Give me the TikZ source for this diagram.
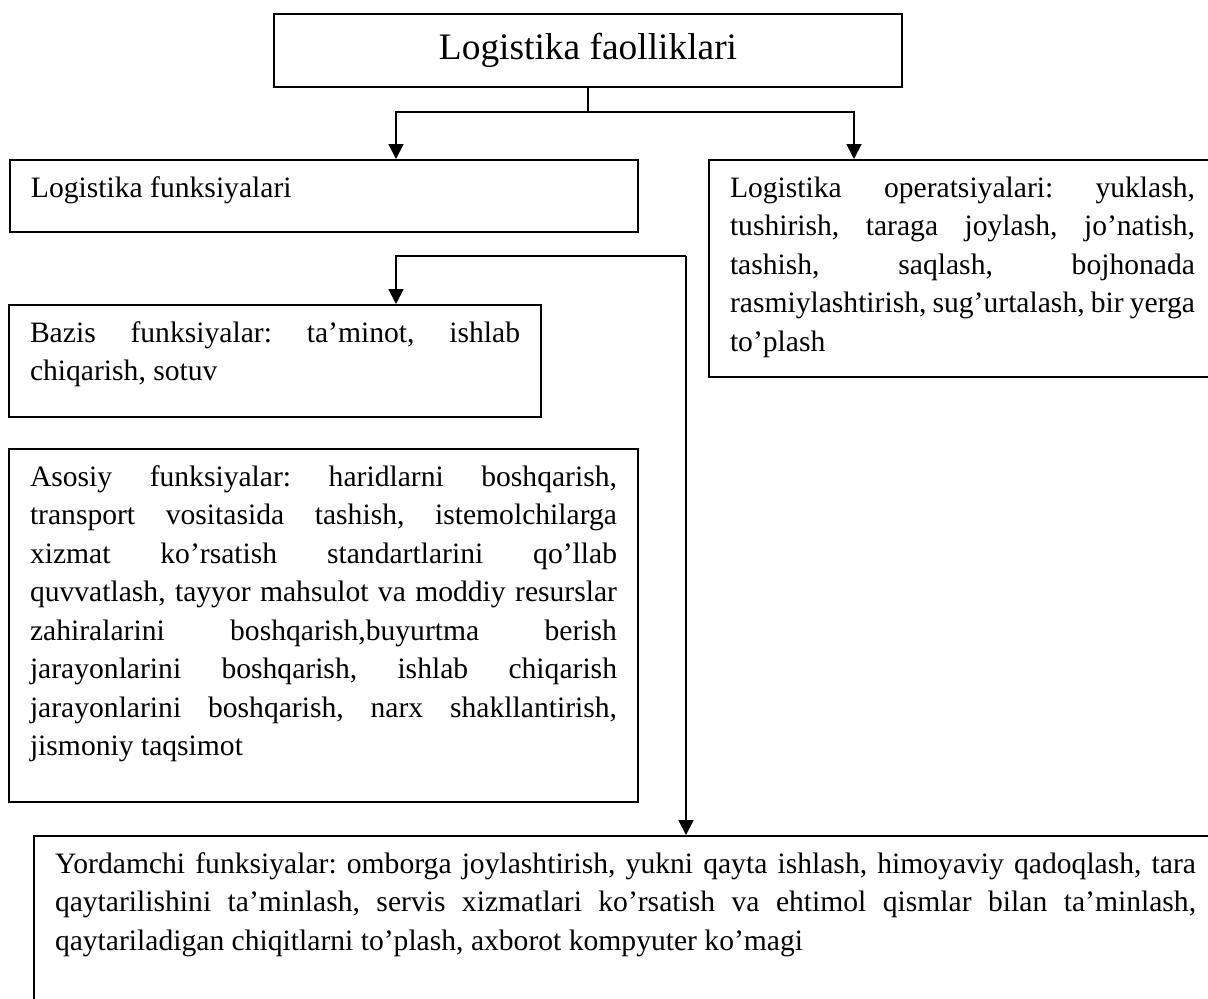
\documentclass[tikz,border=0pt]{standalone}
\usepackage{fontspec}
\setmainfont{Liberation Serif}
\usepackage{tikz}
\usetikzlibrary{arrows.meta}
\tikzset{
box/.style = {rectangle, draw=black, line width=1pt, anchor=north west, align=justify,
  inner xsep=10.5pt, inner ysep=7.5pt, text height=11pt, text width=#1,
  font=\fontsize{14.8}{19.25}\selectfont},
box/.default = 293pt, % width of the text in the box
arr/.style = {line width=0.9pt, -{Triangle[length=7.5pt,width=7.5pt]}},
}
\hyphenpenalty=10000
\exhyphenpenalty=10000
\tolerance=10000
\frenchspacing

\begin{document}
\begin{tikzpicture}[x=0.5pt, y=-0.5pt]
  \useasboundingbox (0,0) rectangle (1208,998);
  % Boxes
    \node[rectangle, draw=black, line width=1pt, minimum width=314pt, minimum height=36.5pt,
      font=\fontsize{18.7}{22}\selectfont] (titleBox) at (588,50.5) {Logistika faolliklari};
    \node[box, text depth=10pt] (funkBox) at (9,159) {Logistika funksiyalari};
    \node[box=232.5pt, text depth=82.5pt] (operBox) at (708,159)
      {Logistika operatsiyalari: yuklash,\linebreak tushirish, taraga joylash, jo’natish,\linebreak
       tashish, saqlash, bojhonada\linebreak rasmiylashtirish, sug’urtalash, bir yerga\linebreak
       to’plash};
    \node[box=245pt, text depth=30pt] (bazisBox) at (8,304)
      {Bazis funksiyalar: ta’minot, ishlab\linebreak chiqarish, sotuv};
    \node[box=293.5pt, text depth=150.5pt] (asosiyBox) at (8,448)
      {Asosiy funksiyalar: haridlarni boshqarish,\linebreak transport vositasida tashish, istemolchilarga\linebreak
       xizmat ko’rsatish standartlarini qo’llab\linebreak quvvatlash, tayyor mahsulot va moddiy resurslar\linebreak
       zahiralarini boshqarish,buyurtma berish\linebreak jarayonlarini boshqarish, ishlab chiqarish\linebreak
       jarayonlarini boshqarish, narx shakllantirish,\linebreak jismoniy taqsimot};
    \node[box=570.5pt, text depth=120pt] (yordamBox) at (33,835)
      {Yordamchi funksiyalar: omborga joylashtirish, yukni qayta ishlash, himoyaviy qadoqlash, tara\linebreak
       qaytarilishini ta’minlash, servis xizmatlari ko’rsatish va ehtimol qismlar bilan ta’minlash,\linebreak
       qaytariladigan chiqitlarni to’plash, axborot kompyuter ko’magi};

  % Node
    \coordinate (leftDrop) at (396,112);
    \coordinate (rightDrop) at (854,112);
    \coordinate (fork) at (686,256);

  % Lines
    \draw[arr] (titleBox.south) |- (leftDrop) -- (leftDrop |- funkBox.north);
    \draw[arr] (titleBox.south) |- (rightDrop) -- (rightDrop |- operBox.north);
    \draw[arr] (fork) -| (leftDrop |- bazisBox.north);
    \draw[arr] (fork) -- (fork |- yordamBox.north);
  \end{tikzpicture}
\end{document}
